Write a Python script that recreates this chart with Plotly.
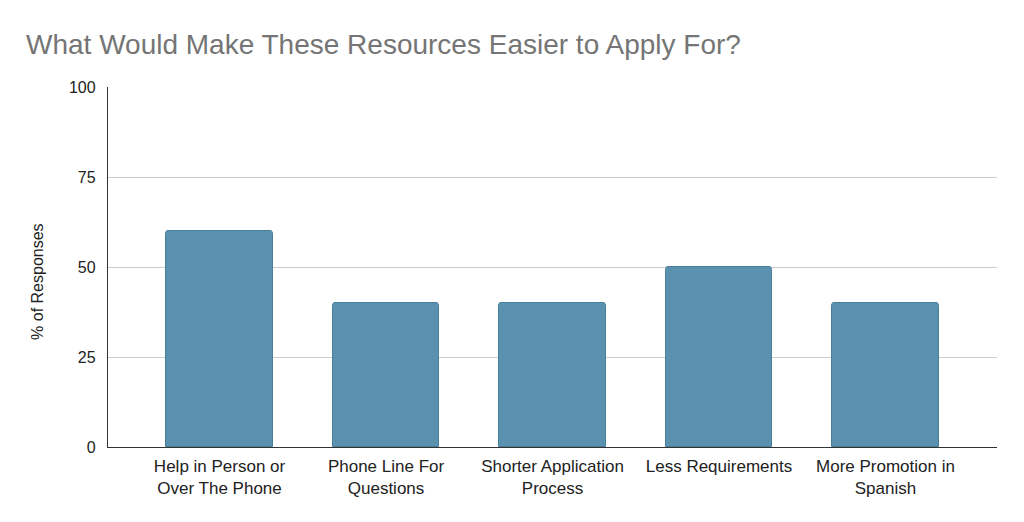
import plotly.graph_objects as go

categories = ["Help in Person or<br>Over The Phone", "Phone Line For<br>Questions",
              "Shorter Application<br>Process", "Less Requirements",
              "More Promotion in<br>Spanish"]
values = [60, 40, 40, 50, 40]
y_ticks = [0, 25, 50, 75, 100]
y_title = "% of Responses"

fig = go.Figure(go.Bar(
    x=list(range(len(categories))), y=values, width=0.64,
    marker=dict(color="#5991af", line=dict(color="#4a7f9c", width=1), cornerradius=3),
))

fig.update_layout(
    width=1024, height=522,
    paper_bgcolor="white", plot_bgcolor="white",
    margin=dict(l=100, r=35, t=79, b=83),
    font=dict(family="Liberation Sans, Arial, sans-serif", size=16, color="#222"),
    title=dict(text="What Would Make These Resources Easier to Apply For?",
               x=18/1024, xanchor="left", y=1-36/522, yanchor="middle",
               font=dict(size=28, color="#757575")),
    showlegend=False,
    bargap=0,
)
fig.add_annotation(
    text=y_title, textangle=-90, xref="paper", yref="paper",
    x=-0.08, y=0.461, xanchor="center", yanchor="middle", showarrow=False,
    font=dict(size=16, color="#222"),
)
fig.update_xaxes(
    tickvals=list(range(len(categories))), ticktext=categories,
    range=[-0.67, 4.67], showgrid=False, zeroline=False,
    showline=True, linecolor="#333", linewidth=1.3,
    ticks="", ticklabelstandoff=3, tickfont=dict(size=17, color="#222"),
)
fig.update_yaxes(
    range=[0, 100], tickvals=y_ticks, showgrid=True, gridcolor="#cccccc",
    zeroline=False, showline=True, linecolor="#333", linewidth=1.3,
    ticks="", ticklabelstandoff=8, tickfont=dict(size=16, color="#222"),
)
fig.write_html("out.html")
